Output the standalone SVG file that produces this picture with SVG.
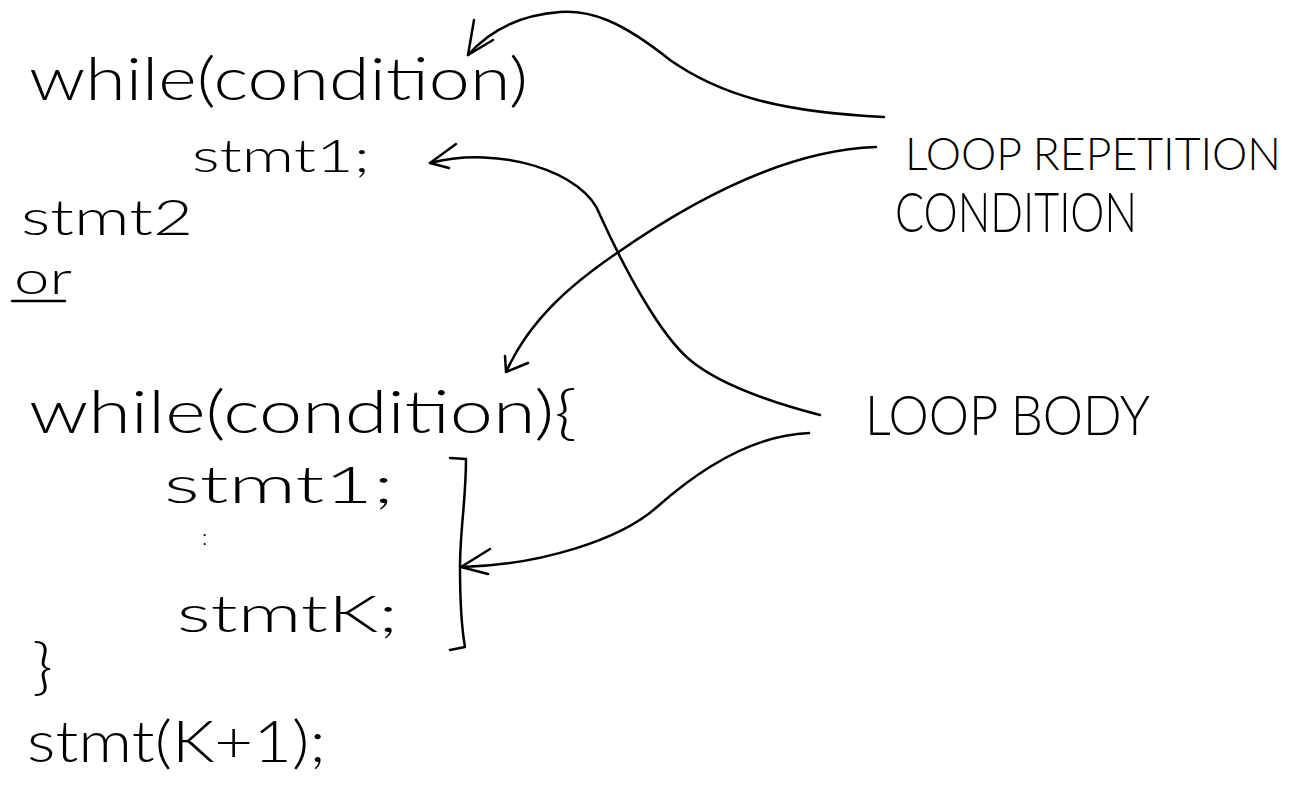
<svg xmlns="http://www.w3.org/2000/svg" width="1306" height="793" viewBox="0 0 1306 793">
  <style>
    .code { font-family: Lato, "Liberation Sans", sans-serif; font-weight: 300; fill: #000; }
    .label { font-family: Lato, "Liberation Sans", sans-serif; font-weight: 300; fill: #000; }
    .ink { fill: none; stroke: #000; stroke-width: 2.5; stroke-linecap: round; stroke-linejoin: round; }
  </style>
  <rect width="1306" height="793" fill="#fff"/>

  <!-- single-statement while loop -->
  <g id="while-single">
    <text class="code" x="29" y="100" font-size="60" textLength="499" lengthAdjust="spacingAndGlyphs">while(condition)</text>
    <text class="code" x="192" y="172" font-size="46" textLength="178" lengthAdjust="spacingAndGlyphs">stmt1;</text>
    <text class="code" x="21" y="235" font-size="50" textLength="172" lengthAdjust="spacingAndGlyphs">stmt2</text>
  </g>

  <!-- "or" separator, underlined -->
  <g id="or-separator">
    <text class="code" x="14" y="294" font-size="46" textLength="58" lengthAdjust="spacingAndGlyphs">or</text>
    <path class="ink" d="M12,301 L65,301"/>
  </g>

  <!-- block while loop -->
  <g id="while-block">
    <text class="code" x="29" y="433" font-size="60" textLength="548" lengthAdjust="spacingAndGlyphs">while(condition){</text>
    <text class="code" x="164" y="503" font-size="52" textLength="230" lengthAdjust="spacingAndGlyphs">stmt1;</text>
    <text class="code" x="202" y="545" font-size="22">:</text>
    <text class="code" x="177" y="632" font-size="52" textLength="221" lengthAdjust="spacingAndGlyphs">stmtK;</text>
    <text class="code" x="32" y="688" font-size="62" textLength="21" lengthAdjust="spacingAndGlyphs">}</text>
    <text class="code" x="27" y="762" font-size="58" textLength="299" lengthAdjust="spacingAndGlyphs">stmt(K+1);</text>
  </g>

  <!-- bracket grouping the loop body -->
  <g id="body-bracket">
    <path class="ink" d="M450,458 L466,459 C466,500 460,530 460,567 C460,600 462,630 465,647 L450,650"/>
  </g>

  <!-- annotation labels -->
  <g id="label-condition">
    <text class="label" x="905" y="170" font-size="46" textLength="376" lengthAdjust="spacingAndGlyphs">LOOP REPETITION</text>
    <text class="label" x="895" y="232" font-size="56" textLength="242" lengthAdjust="spacingAndGlyphs">CONDITION</text>
  </g>
  <g id="label-body">
    <text class="label" x="865" y="435" font-size="56" textLength="285" lengthAdjust="spacingAndGlyphs">LOOP BODY</text>
  </g>

  <!-- connectors with open hand-drawn arrowheads -->
  <g id="connectors">
    <!-- condition label to first while's condition -->
    <path class="ink" d="M884,117 C780,112 720,95 670,60 C620,20 590,10 560,12 C520,15 490,30 468,55"/>
    <path class="ink" d="M474,20 L468,55 L493,40"/>
    <!-- condition label to second while's condition -->
    <path class="ink" d="M876,147 C790,150 700,195 617,253 C570,285 530,320 507,370"/>
    <path class="ink" d="M505,356 L506,372 L528,363"/>
    <!-- body label to stmt1 of the single-statement loop -->
    <path class="ink" d="M820,415 C770,402 720,385 690,360 C660,335 625,270 600,215 C585,172 500,145 430,163"/>
    <path class="ink" d="M456,144 L430,163 L449,168"/>
    <!-- body label to the bracketed block body -->
    <path class="ink" d="M809,433 C760,435 710,460 657,507 C620,540 540,565 462,567"/>
    <path class="ink" d="M490,549 L461,567 L488,574"/>
  </g>
</svg>
